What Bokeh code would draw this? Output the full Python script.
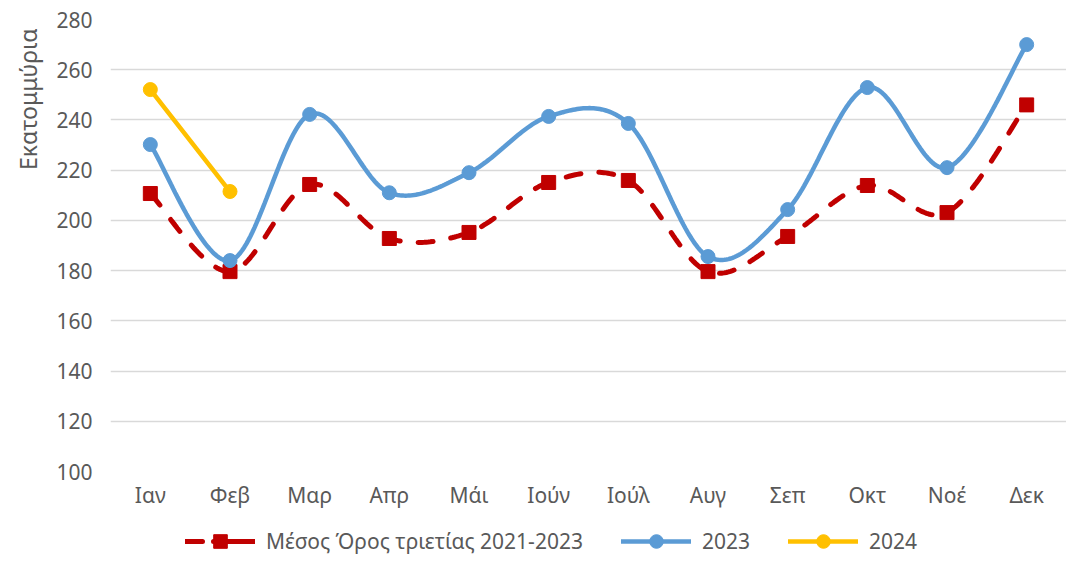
import numpy as np
from bokeh.plotting import figure
from bokeh.layouts import column
from bokeh.models import (Range1d, FixedTicker, Legend, LegendItem, Title)
from bokeh.embed import file_html
from bokeh.resources import INLINE

months = ["Ιαν", "Φεβ", "Μαρ", "Απρ", "Μάι", "Ιούν", "Ιούλ", "Αυγ", "Σεπ", "Οκτ", "Νοέ", "Δεκ"]
avg_2021_2023 = [210.7, 179.6, 214.3, 192.8, 195.2, 215.1, 215.9, 179.6, 193.6, 213.9, 203.1, 246.0]
y2023 = [230.2, 184.0, 242.2, 211.0, 219.0, 241.4, 238.6, 185.6, 204.3, 252.9, 221.0, 270.0]
y2024 = [252.1, 211.5]
y_ticks = [100, 120, 140, 160, 180, 200, 220, 240, 260, 280]
series_names = ["Μέσος Όρος τριετίας 2021-2023", "2023", "2024"]

FONT = "Noto Sans"
TXT = "#595959"
RED, BLUE, YEL = "#C00000", "#5B9BD5", "#FFC000"


def smooth(xs, ys, n=40):
    """Excel-like smoothed line (Catmull-Rom bezier) through the points."""
    P = np.column_stack([np.asarray(xs, float), np.asarray(ys, float)])
    m = len(P)
    if m < 3:
        return list(P[:, 0]), list(P[:, 1])
    out = []
    t = np.linspace(0, 1, n)[:, None]
    for i in range(m - 1):
        p0 = P[max(i - 1, 0)]
        p1 = P[i]
        p2 = P[i + 1]
        p3 = P[min(i + 2, m - 1)]
        c1 = p1 + (p2 - p0) / 6.0
        c2 = p2 - (p3 - p1) / 6.0
        seg = ((1 - t) ** 3) * p1 + 3 * ((1 - t) ** 2) * t * c1 + 3 * (1 - t) * t ** 2 * c2 + t ** 3 * p2
        out.append(seg if i == 0 else seg[1:])
    S = np.vstack(out)
    return list(S[:, 0]), list(S[:, 1])


xi = list(range(len(months)))

p = figure(width=1066, height=524, output_backend="svg", toolbar_location=None,
           x_range=Range1d(-0.5, 11.5), y_range=Range1d(100, 280),
           min_border_left=108, min_border_right=0, min_border_top=19,
           min_border_bottom=53)
p.outline_line_color = None
p.background_fill_color = "white"
p.border_fill_color = "white"

p.xgrid.grid_line_color = None
p.ygrid.grid_line_color = "#D9D9D9"
p.ygrid.grid_line_width = 1.5
p.yaxis.ticker = FixedTicker(ticks=y_ticks)
p.xaxis.ticker = FixedTicker(ticks=xi)
p.xaxis.major_label_overrides = {i: m for i, m in enumerate(months)}

for ax in (p.xaxis[0], p.yaxis[0]):
    ax.axis_line_color = None
    ax.major_tick_line_color = None
    ax.minor_tick_line_color = None
    ax.major_tick_out = 0
    ax.major_tick_in = 0
    ax.major_label_text_font = FONT
    ax.major_label_text_font_size = "21px"
    ax.major_label_text_color = TXT
p.yaxis.major_label_standoff = 18
p.xaxis.major_label_standoff = 9

ytitle = Title(text="Εκατομμύρια", align="right", offset=9, standoff=19,
               text_font=FONT, text_font_size="23px", text_color=TXT,
               text_font_style="normal")
p.add_layout(ytitle, "left")

# Average 2021-2023 (dashed red, square markers)
sx, sy = smooth(xi, avg_2021_2023)
p.line(sx, sy, line_color=RED, line_width=5, line_dash="15 18", line_cap="round")
p.scatter(xi, avg_2021_2023, marker="square", size=14, fill_color=RED, line_color=RED)

# 2023 (blue, circles)
bx, by = smooth(xi, y2023)
p.line(bx, by, line_color=BLUE, line_width=4.5, line_cap="round")
p.scatter(xi, y2023, marker="circle", size=14, fill_color=BLUE, line_color=BLUE)

# 2024 (yellow, circles)
x24 = xi[:len(y2024)]
p.line(x24, y2024, line_color=YEL, line_width=4.5, line_cap="round")
p.scatter(x24, y2024, marker="circle", size=14, fill_color=YEL, line_color=YEL)

# Legend strip (separate figure so it sits below the axis labels)
pl = figure(width=1066, height=34, output_backend="svg", toolbar_location=None,
            x_range=Range1d(0, 1), y_range=Range1d(0, 1), min_border=0)
pl.outline_line_color = None
pl.axis.visible = False
pl.grid.visible = False
off = [-5, -5]  # legend-only renderers, kept outside the visible range
la = pl.line(x=off, y=off, line_color=RED, line_width=5, line_dash="17 11 60", line_cap="round")
lb = pl.scatter(x=off, y=off, marker="square", size=14, fill_color=RED, line_color=RED)
lc = pl.line(x=off, y=off, line_color=BLUE, line_width=4.5, line_cap="round")
ld = pl.scatter(x=off, y=off, marker="circle", size=14, fill_color=BLUE, line_color=BLUE)
le = pl.line(x=off, y=off, line_color=YEL, line_width=4.5, line_cap="round")
lf = pl.scatter(x=off, y=off, marker="circle", size=14, fill_color=YEL, line_color=YEL)

legend = Legend(items=[
    LegendItem(label=series_names[0], renderers=[la, lb], index=0),
    LegendItem(label=series_names[1], renderers=[lc, ld], index=0),
    LegendItem(label=series_names[2], renderers=[le, lf], index=0),
], orientation="horizontal", location=(75, 0), padding=0, margin=0, border_line_color=None,
    background_fill_alpha=0, spacing=38, label_standoff=11, glyph_width=70, glyph_height=34,
    label_text_font=FONT, label_text_font_size="21px", label_text_color=TXT)
pl.add_layout(legend, "center")

layout = column(p, pl, spacing=0)
open("out.html", "w").write(file_html(layout, INLINE))
